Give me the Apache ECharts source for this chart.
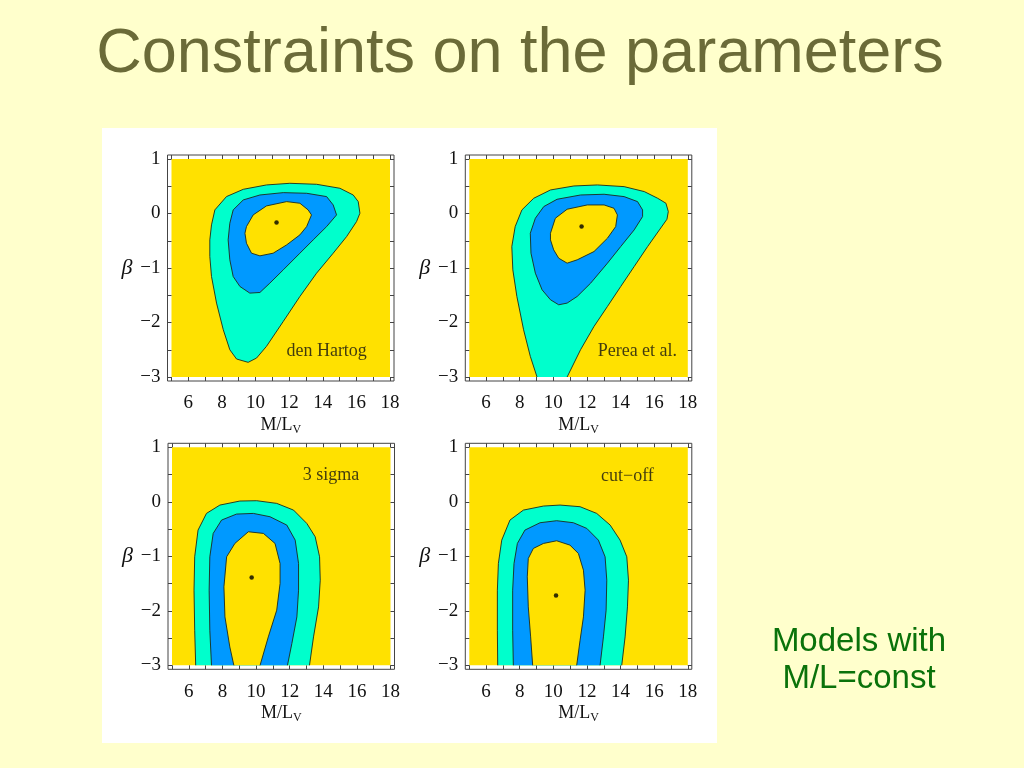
<!DOCTYPE html>
<html>
<head>
<meta charset="utf-8">
<script src="https://cdn.jsdelivr.net/npm/echarts@6/dist/echarts.min.js"></script>
<style>
html,body{margin:0;padding:0;background:#FFFFCC;}
#c{width:1024px;height:768px;}
</style>
</head>
<body>
<div id="c"></div>
<script>
// ---- data ----
const xTickLabels = [6, 8, 10, 12, 14, 16, 18];
const yTickLabels = [1, 0, -1, -2, -3];
const panelNames = ['den Hartog', 'Perea et al.', '3 sigma', 'cut\u2212off'];

// den Hartog
const dhOuter = [[7.58,0.066],[8.27,0.31],[9.27,0.444],[10.65,0.524],[12.04,0.554],[13.63,0.536],[15.02,0.463],[15.81,0.34],[16.11,0.218],[16.21,0.005],[16.01,-0.148],[15.42,-0.423],[14.62,-0.728],[13.63,-1.095],[12.64,-1.522],[11.65,-1.98],[10.65,-2.438],[10.06,-2.652],[9.56,-2.731],[8.87,-2.67],[8.47,-2.5],[8.08,-2.133],[7.68,-1.644],[7.38,-1.156],[7.28,-0.789],[7.28,-0.484],[7.38,-0.209]];
const dhMid = [[8.67,0.066],[9.27,0.249],[10.26,0.34],[11.65,0.383],[13.04,0.371],[14.23,0.31],[14.62,0.157],[14.82,-0.026],[14.23,-0.24],[13.43,-0.484],[12.64,-0.728],[11.65,-1.034],[10.85,-1.278],[10.26,-1.449],[9.66,-1.461],[9.07,-1.339],[8.67,-1.156],[8.47,-0.85],[8.37,-0.484],[8.47,-0.179]];
const dhInner = [[9.46,-0.24],[9.86,-0.026],[10.65,0.139],[11.85,0.218],[12.64,0.188],[13.13,0.066],[13.33,-0.026],[13.04,-0.24],[12.64,-0.392],[11.85,-0.576],[11.05,-0.728],[10.26,-0.777],[9.76,-0.728],[9.46,-0.545],[9.37,-0.362]];
const dhBest = [11.25, -0.166];

// Perea et al.
const peOuter = [[9.03,-3],[8.63,-2.621],[8.23,-2.133],[7.83,-1.522],[7.59,-1.034],[7.53,-0.606],[7.73,-0.24],[8.13,0.066],[8.83,0.279],[9.83,0.432],[11.22,0.505],[12.62,0.524],[14.21,0.493],[15.41,0.402],[16.21,0.279],[16.7,0.188],[16.84,0.035],[16.76,-0.105],[16.31,-0.301],[15.61,-0.606],[14.81,-0.973],[14.01,-1.339],[13.22,-1.705],[12.42,-2.072],[11.62,-2.499],[10.82,-3]];
const peMid = [[8.93,-0.087],[9.43,0.127],[10.22,0.261],[11.62,0.34],[13.02,0.353],[14.21,0.31],[15.01,0.218],[15.31,0.066],[15.31,-0.056],[14.81,-0.301],[14.01,-0.606],[13.22,-0.911],[12.22,-1.278],[11.42,-1.522],[10.82,-1.644],[10.32,-1.675],[9.83,-1.583],[9.33,-1.4],[8.93,-1.095],[8.67,-0.728],[8.63,-0.362]];
const peInner = [[9.83,-0.362],[10.12,-0.087],[10.82,0.078],[12.02,0.157],[13.02,0.157],[13.61,0.096],[13.81,-0.026],[13.71,-0.24],[13.22,-0.453],[12.42,-0.698],[11.42,-0.85],[10.82,-0.911],[10.32,-0.82],[10.02,-0.667],[9.83,-0.484]];
const peBest = [11.68, -0.24];

// 3 sigma
const sgOuter = [[6.41,-3],[6.35,-2.357],[6.31,-1.622],[6.35,-1.009],[6.55,-0.519],[7.05,-0.213],[7.85,-0.06],[9.04,0.014],[10.04,0.02],[11.23,-0.029],[12.23,-0.152],[13.02,-0.397],[13.52,-0.642],[13.78,-1.009],[13.82,-1.438],[13.72,-1.928],[13.42,-2.479],[13.18,-3]];
const sgMid = [[7.35,-3],[7.25,-2.357],[7.21,-1.622],[7.25,-1.009],[7.45,-0.58],[7.95,-0.335],[8.84,-0.225],[9.84,-0.213],[10.83,-0.274],[11.83,-0.427],[12.33,-0.703],[12.53,-1.132],[12.53,-1.622],[12.43,-2.112],[12.13,-2.602],[11.87,-3]];
const sgInner = [[8.68,-3],[8.44,-2.663],[8.15,-2.112],[8.09,-1.561],[8.25,-1.009],[8.74,-0.764],[9.54,-0.55],[10.44,-0.58],[11.13,-0.764],[11.43,-1.132],[11.43,-1.499],[11.23,-1.989],[10.73,-2.479],[10.24,-3]];
const sgBest = [9.74, -1.389];

// cut-off
const coOuter = [[6.69,-3],[6.67,-2.357],[6.67,-1.622],[6.73,-1.132],[6.93,-0.703],[7.42,-0.335],[8.22,-0.152],[9.41,-0.078],[10.4,-0.06],[11.59,-0.09],[12.58,-0.213],[13.38,-0.427],[13.97,-0.703],[14.37,-1.009],[14.47,-1.438],[14.41,-1.928],[14.27,-2.479],[14.07,-3]];
const coMid = [[7.62,-3],[7.58,-2.357],[7.58,-1.622],[7.66,-1.132],[7.86,-0.764],[8.31,-0.519],[9.21,-0.384],[10.2,-0.347],[11.19,-0.384],[11.99,-0.488],[12.68,-0.703],[13.08,-1.009],[13.18,-1.438],[13.14,-1.989],[12.98,-2.479],[12.78,-3]];
const coInner = [[8.77,-3],[8.65,-2.479],[8.51,-1.928],[8.45,-1.377],[8.51,-1.04],[8.81,-0.856],[9.41,-0.764],[10.2,-0.715],[10.99,-0.795],[11.49,-0.948],[11.79,-1.254],[11.89,-1.622],[11.79,-2.112],[11.59,-2.541],[11.39,-3]];
const coBest = [10.16, -1.72];

// ---- layout / styles ----
const YELLOW = '#FFE100', CYAN = '#00FFCC', BLUE = '#0099FF';
const FRAME = '#444444';
const panels = [
  {contours: [dhOuter, dhMid, dhInner], best: dhBest, left: 171.5, top: 159, labelAt: [14.23, -2.52]},
  {contours: [peOuter, peMid, peInner], best: peBest, left: 469.3, top: 159, labelAt: [15.0, -2.52]},
  {contours: [sgOuter, sgMid, sgInner], best: sgBest, left: 172, top: 447.3, labelAt: [14.46, 0.49]},
  {contours: [coOuter, coMid, coInner], best: coBest, left: 469.3, top: 447.3, labelAt: [14.41, 0.47]}
];
const GW = 218.5, GH = 218, PAD = 4;
const fills = [CYAN, BLUE, YELLOW];
const SERIF = '"Liberation Serif", "Times New Roman", serif';

function fmtX(v) { return xTickLabels.indexOf(v) >= 0 ? String(v) : ''; }
function fmtY(v) { return yTickLabels.indexOf(v) >= 0 ? (v < 0 ? '\u2212' + Math.abs(v) : String(v)) : ''; }

const grids = [], xAxes = [], yAxes = [], series = [];
const tickCommon = {show: true, inside: true, length: 4, lineStyle: {color: FRAME, width: 1}};
const noLine = {show: false, onZero: false};

panels.forEach(function (p, i) {
  grids.push({left: p.left, top: p.top, width: GW, height: GH, show: true, backgroundColor: YELLOW, borderWidth: 0});
});
panels.forEach(function (p, i) {
  grids.push({left: p.left - PAD, top: p.top - PAD, width: GW + 2 * PAD, height: GH + 2 * PAD, show: true,
    backgroundColor: 'transparent', borderColor: FRAME, borderWidth: 1});
});

panels.forEach(function (p, i) {
  xAxes.push({gridIndex: i, type: 'value', position: 'bottom', min: 5, max: 18, interval: 1, offset: PAD,
    axisLine: noLine, axisTick: tickCommon, splitLine: {show: false},
    axisLabel: {formatter: fmtX, margin: 13, fontFamily: SERIF, fontSize: 19, color: '#111'},
    name: 'M/L{s|V}', nameLocation: 'middle', nameGap: 32,
    nameTextStyle: {fontFamily: SERIF, fontSize: 18, color: '#111', lineHeight: 22,
      rich: {s: {fontFamily: SERIF, fontSize: 12, color: '#111', lineHeight: 14, verticalAlign: 'bottom'}}}
  });
});
panels.forEach(function (p, i) {
  xAxes.push({gridIndex: i, type: 'value', position: 'top', min: 5, max: 18, interval: 1, offset: PAD,
    axisLine: noLine, axisTick: tickCommon, splitLine: {show: false}, axisLabel: {show: false}});
});
panels.forEach(function (p, i) {
  yAxes.push({gridIndex: i, type: 'value', position: 'left', min: -3, max: 1, interval: 0.5, offset: PAD,
    axisLine: noLine, axisTick: tickCommon, splitLine: {show: false},
    axisLabel: {formatter: fmtY, margin: 7, fontFamily: SERIF, fontSize: 19, color: '#111', padding: [4, 0, 0, 0]},
    name: '\u03B2', nameLocation: 'middle', nameRotate: 0, nameGap: 35,
    nameTextStyle: {fontFamily: SERIF, fontSize: 22, fontStyle: 'italic', color: '#111', padding: [4, 0, 0, 0]}
  });
});
panels.forEach(function (p, i) {
  yAxes.push({gridIndex: i, type: 'value', position: 'right', min: -3, max: 1, interval: 0.5, offset: PAD,
    axisLine: noLine, axisTick: tickCommon, splitLine: {show: false}, axisLabel: {show: false}});
});

function contourSeries(pts, color, i) {
  return {
    type: 'custom', xAxisIndex: i, yAxisIndex: i, silent: true, z: 2,
    data: pts,
    renderItem: function (params, api) {
      if (params.dataIndex !== 0) return null;
      const c = pts.map(function (q) { return api.coord(q); });
      const open = pts[0][1] === -3 && pts[pts.length - 1][1] === -3;
      const line = open ? c : c.concat([c[0]]);
      return {type: 'group', children: [
        {type: 'polygon', shape: {points: c}, style: {fill: color, stroke: null}},
        {type: 'polyline', shape: {points: line}, style: {fill: null, stroke: '#1c2a1c', lineWidth: 0.9}}
      ]};
    }
  };
}

panels.forEach(function (p, i) {
  p.contours.forEach(function (pts, k) { series.push(contourSeries(pts, fills[k], i)); });
  series.push({type: 'scatter', xAxisIndex: i, yAxisIndex: i, symbol: 'circle', symbolSize: 4.5,
    itemStyle: {color: '#000'}, data: [p.best], z: 5, silent: true});
  series.push({type: 'scatter', xAxisIndex: i, yAxisIndex: i, symbolSize: 0, z: 6, silent: true,
    data: [{value: p.labelAt, name: panelNames[i]}],
    label: {show: true, position: 'inside', formatter: '{b}', fontFamily: SERIF, fontSize: 18, color: '#111'}});
});

const chart = echarts.init(document.getElementById('c'), null, {renderer: 'canvas'});
chart.setOption({
  animation: false,
  backgroundColor: '#FFFFCC',
  graphic: [
    {type: 'rect', shape: {x: 102, y: 128, width: 615, height: 615}, style: {fill: '#FFFFFF'}, z: -10, silent: true},
    {type: 'text', x: 520, y: 55, z: 10, style: {text: 'Constraints on the parameters', fill: '#6B6B38',
      font: '63px "Liberation Sans", Arial, sans-serif', textAlign: 'center', textVerticalAlign: 'middle'}},
    {type: 'text', x: 859, y: 642, z: 10, style: {text: 'Models with', fill: '#0A720A',
      font: '33px "Liberation Sans", Arial, sans-serif', textAlign: 'center', textVerticalAlign: 'middle'}},
    {type: 'text', x: 859, y: 679, z: 10, style: {text: 'M/L=const', fill: '#0A720A',
      font: '33px "Liberation Sans", Arial, sans-serif', textAlign: 'center', textVerticalAlign: 'middle'}}
  ],
  grid: grids,
  xAxis: xAxes,
  yAxis: yAxes,
  series: series
});
</script>
</body>
</html>
